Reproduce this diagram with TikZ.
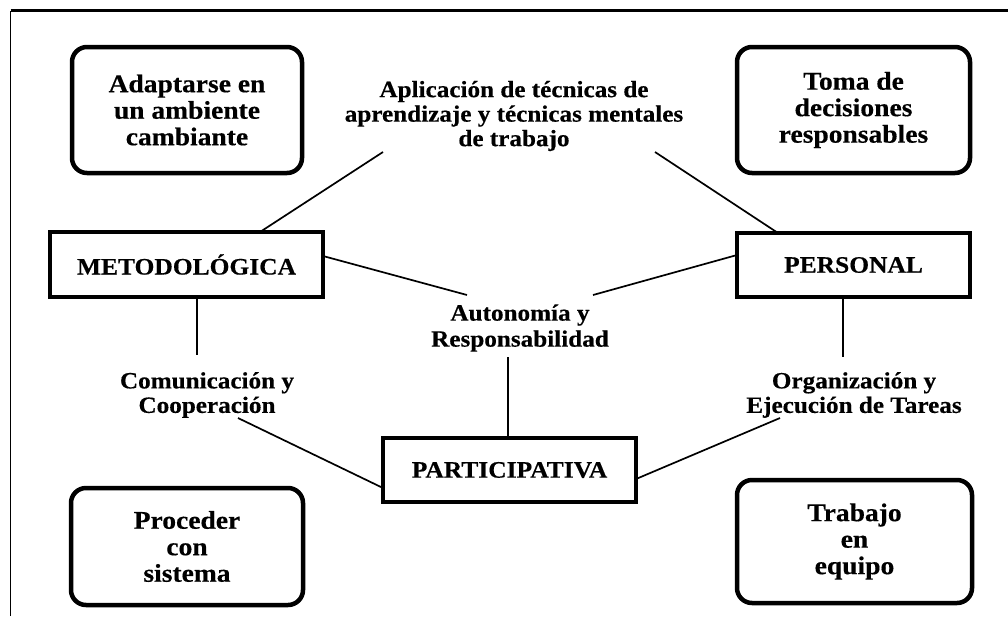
\documentclass[tikz,border=0pt]{standalone}
\usepackage{fontspec}
\setmainfont[BoldFeatures={FakeStretch=1.08,FakeBold=0.4}]{Liberation Serif}
\begin{document}
\begin{tikzpicture}[x=1pt,y=-1pt,
  rbox/.style={draw,line width=4.5pt,rounded corners=15pt,align=center,inner sep=0pt,
    font=\fontsize{25.5}{26.5}\selectfont\bfseries},
  sbox/.style={draw,line width=3.3pt,align=center,inner sep=0pt,
    font=\fontsize{23.6}{26}\selectfont\bfseries},
  lbl/.style={align=center,inner sep=0pt,font=\fontsize{23.3}{24.5}\selectfont\bfseries},
  conn/.style={line width=1.7pt}]
\useasboundingbox (0,0) rectangle (1008,616);
% frame
\coordinate (fa) at (10.5,616);
\coordinate (fb) at (10.5,10.5);
\coordinate (fc) at (1008,10.5);
\draw[line width=1.8pt] (fa) -- (fb);
\draw[line width=2.6pt] (fb) -- (fc);
% rounded boxes
\node[rbox,minimum width=230pt,minimum height=126pt] (tl) at (187,110) {Adaptarse en\\un ambiente\\cambiante};
\node[rbox,minimum width=233pt,minimum height=126pt] (tr) at (853.5,110) {Toma de\\decisiones\\responsables};
\node[rbox,minimum width=232pt,minimum height=117pt] (bl) at (187,546.5) {Proceder\\con\\sistema};
\node[rbox,minimum width=235pt,minimum height=123pt] (br) at (854.5,541.5) {Trabajo\\en\\equipo};
% square boxes
\node[sbox,minimum width=273pt,minimum height=65pt] (met) at (186.5,264.5) {METODOLÓGICA};
\node[sbox,minimum width=233pt,minimum height=64pt] (per) at (853.5,265) {PERSONAL};
\node[sbox,minimum width=253pt,minimum height=64pt] (par) at (509.5,470) {PARTICIPATIVA};
% labels
\node[lbl] (apl) at (514,116) {Aplicación de técnicas de\\aprendizaje y técnicas mentales\\de trabajo};
\node[lbl,font=\fontsize{23.3}{26}\selectfont\bfseries] (aut) at (520,328) {Autonomía y\\Responsabilidad};
\node[lbl] (com) at (207,395) {Comunicación y\\Cooperación};
\node[lbl] (org) at (854,395) {Organización y\\Ejecución de Tareas};
% connector end points
\coordinate (apl-l) at (383,152);
\coordinate (apl-r) at (655,152);
\coordinate (met-n) at (260,232);
\coordinate (per-n) at (778,233);
\coordinate (met-e) at (323,256);
\coordinate (per-w) at (737,255);
\coordinate (aut-l) at (467,295);
\coordinate (aut-r) at (593,295);
\coordinate (met-s) at (197,297);
\coordinate (com-n) at (197,355);
\coordinate (per-s) at (843,297);
\coordinate (org-n) at (843,357);
\coordinate (aut-s) at (508,357);
\coordinate (par-n) at (508,438);
\coordinate (com-s) at (238,418);
\coordinate (par-w) at (383,488);
\coordinate (org-s) at (780,418);
\coordinate (par-e) at (636,479);
\draw[conn] (apl-l) -- (met-n);
\draw[conn] (apl-r) -- (per-n);
\draw[conn] (met-e) -- (aut-l);
\draw[conn] (per-w) -- (aut-r);
\draw[conn] (met-s) -- (com-n);
\draw[conn] (per-s) -- (org-n);
\draw[conn] (aut-s) -- (par-n);
\draw[conn] (com-s) -- (par-w);
\draw[conn] (org-s) -- (par-e);
\end{tikzpicture}
\end{document}
